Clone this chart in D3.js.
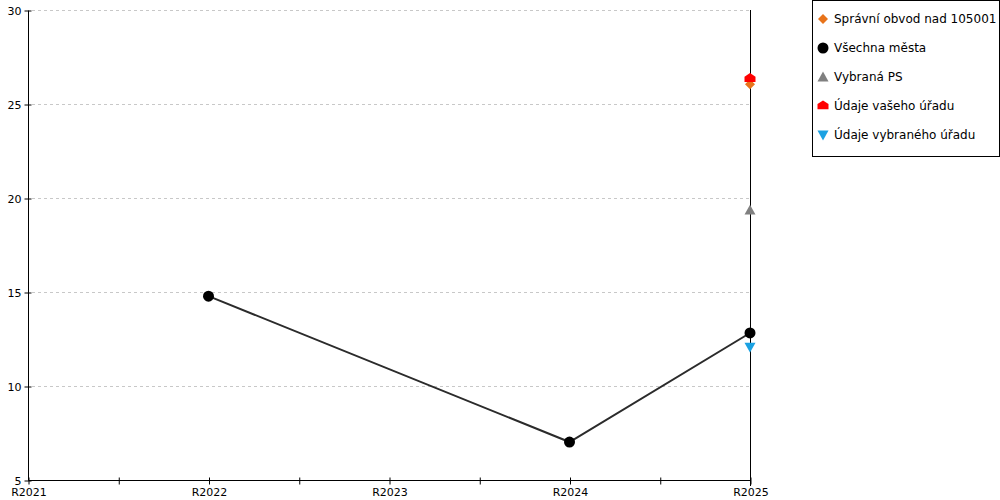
<!DOCTYPE html>
<html><head><meta charset="utf-8">
<script src="https://cdn.jsdelivr.net/npm/d3@7"></script>
<style>body{margin:0;background:#fff}svg{display:block}text{font-family:"DejaVu Sans",Verdana,sans-serif}</style>
</head><body>
<svg id="c" width="1000" height="500"></svg>
<script>
const categories = ["R2021","R2022","R2023","R2024","R2025"];
const yTicks = [5,10,15,20,25,30];
const seriesNames = ["Správní obvod nad 105001","Všechna města","Vybraná PS","Údaje vašeho úřadu","Údaje vybraného úřadu"];
const spravniObvod = [null,null,null,null,26.05];
const vsechnaMesta = [null,14.78,null,7.02,12.82];
const vybranaPS = [null,null,null,null,19.35];
const vasUrad = [null,null,null,null,26.35];
const vybranyUrad = [null,null,null,null,12.07];
const colors = ["#e8731a","#000000","#808080","#ff0000","#1ba1e2"];

const svg = d3.select("#c");
const x = d3.scaleLinear().domain([0,4]).range([28,750]);
const y = d3.scaleLinear().domain([5,30]).range([480,10]);

// grid
svg.append("g").selectAll("line").data(yTicks.filter(t=>t>5)).join("line")
  .attr("x1",32).attr("x2",750).attr("y1",d=>y(d)+0.5).attr("y2",d=>y(d)+0.5)
  .attr("stroke","#c8c8c8").attr("stroke-dasharray","3,3");

// right vertical line
svg.append("line").attr("x1",750.5).attr("x2",750.5).attr("y1",y(30)).attr("y2",y(5)+6)
  .attr("stroke","#000");

// y axis
const ya = svg.append("g").attr("transform","translate(28.5,0.5)")
  .call(d3.axisLeft(y).tickValues(yTicks).tickSize(4));
ya.selectAll(".tick line").attr("x2",3).attr("x1",-4);
ya.select(".domain").attr("d",`M0,${y(30)}V${y(5)}`);
ya.selectAll("text").attr("x",-7).style("font-size","11px").attr("fill","#000");

// x axis
const xa = svg.append("g").attr("transform","translate(0.5,480.5)")
  .call(d3.axisBottom(x).tickValues(d3.range(0,4.01,0.5)).tickFormat(d=>Number.isInteger(d)?categories[d]:"").tickSize(4));
xa.selectAll(".tick line").attr("y1",-3).attr("y2",4);
xa.select(".domain").attr("d",`M${x(0)},0H${x(4)}`);
xa.selectAll("text").attr("y",8).style("font-size","11px").attr("fill","#000");

// line
const pts = vsechnaMesta.map((v,i)=>({i,v})).filter(d=>d.v!=null);
svg.append("path").datum(pts)
  .attr("d",d3.line().x(d=>x(d.i)).y(d=>y(d.v)))
  .attr("fill","none").attr("stroke","#2b2b2b").attr("stroke-width",2);

const shapes = {
  diamond: s=>`M0,${-s}L${s},0L0,${s}L${-s},0Z`,
  circle: s=>d3.symbol(d3.symbolCircle, Math.PI*s*s)(),
  tri: s=>`M0,${-s}L${s},${s*0.8}L${-s},${s*0.8}Z`,
  house: s=>`M0,${-s}L${s},${-s*0.35}L${s},${s*0.6}L${-s},${s*0.6}L${-s},${-s*0.35}Z`,
  triDown: s=>`M${-s},${-s*0.8}L${s},${-s*0.8}L0,${s}Z`
};
const series = [
  {vals:spravniObvod, shape:"diamond", size:5},
  {vals:vsechnaMesta, shape:"circle", size:5.5},
  {vals:vybranaPS, shape:"tri", size:5.5},
  {vals:vasUrad, shape:"house", size:5.5},
  {vals:vybranyUrad, shape:"triDown", size:5.5}
];
const drawOrder = [1,2,4,0,3];
drawOrder.forEach(si=>{
  const s = series[si];
  svg.append("g").selectAll("path").data(s.vals.map((v,i)=>({i,v})).filter(d=>d.v!=null)).join("path")
    .attr("transform",d=>`translate(${x(d.i)},${y(d.v)})`)
    .attr("d",shapes[s.shape](s.size)).attr("fill",colors[si]);
});

// legend
const lg = svg.append("g");
lg.append("rect").attr("x",812.5).attr("y",0.5).attr("width",187).attr("height",156)
  .attr("fill","#fff").attr("stroke","#000");
seriesNames.forEach((n,i)=>{
  const cy = 19 + i*29;
  lg.append("path").attr("transform",`translate(823,${cy})`).attr("d",shapes[series[i].shape](series[i].size)).attr("fill",colors[i]);
  lg.append("text").attr("x",834).attr("y",cy).attr("dy","0.35em").style("font-size","12px").text(n);
});
</script>
</body></html>
